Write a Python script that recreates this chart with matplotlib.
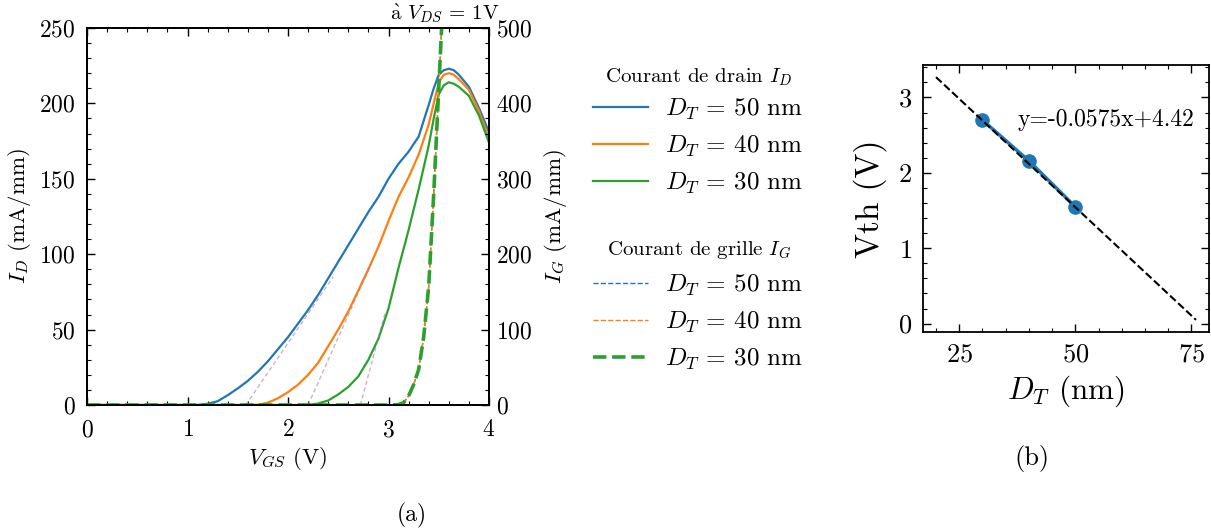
import numpy as np
import matplotlib
matplotlib.use("Agg")
from matplotlib import pyplot as plt

plt.rcParams['font.family'] = ['cmr10', 'DejaVu Serif']
plt.rcParams['mathtext.fontset'] = 'cm'
plt.rcParams['axes.formatter.use_mathtext'] = True
plt.rcParams['axes.unicode_minus'] = False
plt.rcParams['xtick.direction'] = 'in'
plt.rcParams['ytick.direction'] = 'in'
plt.rcParams['axes.linewidth'] = 1.3

# --- (a) courbes de transfert ---
vgs_50 = [0.0, 1.0, 1.1, 1.2, 1.3, 1.4, 1.5, 1.6, 1.7, 1.8, 1.9, 2.0, 2.1, 2.2, 2.3, 2.4, 2.5,
          2.6, 2.7, 2.8, 2.9, 3.0, 3.1, 3.2, 3.3, 3.4, 3.45, 3.5, 3.55, 3.6, 3.65, 3.7, 3.8, 3.9, 4.0]
id_50 = [0, 0, 0, 0.8, 2.5, 6.5, 11, 16, 22, 29, 37, 45, 54, 63, 73, 84, 95,
         106, 117, 128, 138, 150, 160, 168, 178, 199, 210, 219, 222, 223, 222, 219, 211, 197, 181]

vgs_40 = [0.0, 1.6, 1.7, 1.8, 1.9, 2.0, 2.1, 2.2, 2.3, 2.4, 2.5, 2.6, 2.7, 2.8, 2.9, 3.0,
          3.1, 3.2, 3.3, 3.4, 3.45, 3.5, 3.55, 3.6, 3.65, 3.7, 3.8, 3.9, 4.0]
id_40 = [0, 0, 0.2, 1.5, 4.5, 8.5, 13.5, 20, 28, 39, 50, 62, 76, 90, 105, 122,
         138, 151, 166, 186, 200, 214, 219, 220, 219, 216, 209, 195, 177]

vgs_30 = [0.0, 2.2, 2.3, 2.4, 2.5, 2.6, 2.7, 2.8, 2.9, 3.0, 3.1, 3.2, 3.3, 3.4, 3.45, 3.5,
          3.55, 3.6, 3.65, 3.7, 3.8, 3.9, 4.0]
id_30 = [0, 0, 1, 3, 7, 12, 19, 30, 44, 64, 91, 116, 143, 172, 190, 206,
         212, 214, 213, 211, 205, 192, 174]

# courant de grille (les trois courbes se superposent)
vgs_g = [0.0, 3.0, 3.1, 3.15, 3.2, 3.25, 3.3, 3.35, 3.4, 3.45, 3.5, 3.55]
ig_50 = [0, 0, 0.5, 3, 12, 27, 47, 90, 157, 280, 420, 560]
ig_40 = [0, 0, 0.5, 3, 12, 27, 47, 90, 157, 280, 420, 560]
ig_30 = [0, 0, 0.5, 3, 12, 27, 47, 90, 157, 280, 420, 560]

# tangentes pour l'extraction de Vth
tan_x = [[1.58, 2.45], [2.20, 2.85], [2.72, 2.97]]
tan_y = [[0, 85], [0, 97], [0, 62]]

# --- (b) Vth en fonction de D_T ---
dt = [30, 40, 50]
vth = [2.70, 2.16, 1.55]
fit_x = [20, 76]
fit_a, fit_b = -0.0575, 4.42

colors = ['#1f77b4', '#ff7f0e', '#2ca02c']
labels = [r'$D_T$ = 50 nm', r'$D_T$ = 40 nm', r'$D_T$ = 30 nm']

fig = plt.figure(figsize=(12.11, 5.31), dpi=100)
W, H = 1211, 531
ax = fig.add_axes([87 / W, 126 / H, 402 / W, 377 / H])
ax2 = ax.twinx()

id_lines = []
for v, i, c, lab in zip([vgs_50, vgs_40, vgs_30], [id_50, id_40, id_30], colors, labels):
    ln, = ax.plot(v, i, color=c, lw=1.6, label=lab)
    id_lines.append(ln)

for tx, ty in zip(tan_x, tan_y):
    ax.plot(tx, ty, color='#b07aa8', lw=1.0, ls=(0, (3, 2)), alpha=0.6)

ig_lines = []
for ig, c, lab, lw in zip([ig_50, ig_40, ig_30], colors, labels, [1.0, 1.0, 2.6]):
    ln, = ax2.plot(vgs_g, ig, color=c, lw=lw, ls='--', label=lab)
    ig_lines.append(ln)

ax.set_xlim(0, 4)
ax.set_ylim(0, 250)
ax2.set_ylim(0, 500)
ax.set_xticks([0, 1, 2, 3, 4])
ax.set_xticks(np.arange(0, 4.01, 0.2), minor=True)
ax.set_yticks(np.arange(0, 251, 50))
ax.set_yticks(np.arange(0, 251, 10), minor=True)
ax2.set_yticks(np.arange(0, 501, 100))
ax2.set_yticks(np.arange(0, 501, 20), minor=True)
ax.tick_params(which='both', top=True, right=False, labelsize=17)
ax.tick_params(which='major', length=6, width=1.0)
ax.tick_params(which='minor', length=3, width=0.8)
ax.tick_params(axis='x', which='major', pad=10)
ax.tick_params(axis='y', which='major', pad=8)
ax2.tick_params(which='major', length=6, width=1.0, labelsize=17, pad=5)
ax2.tick_params(which='minor', length=3, width=0.8)

ax.set_xlabel(r'$V_{GS}$ (V)', fontsize=16.5, labelpad=3)
ax.set_ylabel(r'$I_D$ (mA/mm)', fontsize=16.5, labelpad=5)
ax2.set_ylabel(r'$I_G$ (mA/mm)', fontsize=16.5, labelpad=7)
ax.text(1.027, 1.008, r'$\mathrm{\grave{a}}$ $V_{DS}$ = 1V', transform=ax.transAxes,
        ha='right', va='bottom', fontsize=15)

# légendes : titres placés à part
leg_kw = dict(loc='upper left', bbox_transform=fig.transFigure, frameon=False,
              fontsize=18, handlelength=2.2, handletextpad=0.7, labelspacing=0.47)
leg1 = ax2.legend(handles=id_lines, bbox_to_anchor=(570 / W, 1 - 74 / H), **leg_kw)
ax2.add_artist(leg1)
ax2.legend(handles=ig_lines, bbox_to_anchor=(570 / W, 1 - 250 / H), **leg_kw)
fig.text(699 / W, 1 - 77 / H, r'Courant de drain $I_D$', ha='center', va='center', fontsize=15)
fig.text(699 / W, 1 - 250 / H, r'Courant de grille $I_G$', ha='center', va='center', fontsize=15)

fig.text(412 / W, 1 - 515 / H, '(a)', ha='center', va='center', fontsize=17)

# --- (b) ---
axb = fig.add_axes([923 / W, (H - 332) / H, 286 / W, 267 / H])
fx = np.array(fit_x)
axb.plot(fx, fit_a * fx + fit_b, color='black', ls='--', lw=1.5, zorder=3)
axb.plot(dt, vth, color='#1f77b4', marker='o', ms=9.5, lw=2.5, zorder=2)
axb.text(56.5, 2.70, 'y=-0.0575x+4.42', ha='center', va='center', fontsize=17)
axb.set_xticks([25, 50, 75])
axb.set_xticks(np.arange(20, 80, 5), minor=True)
axb.set_yticks([0, 1, 2, 3])
axb.set_yticks(np.arange(0, 3.41, 0.2), minor=True)
axb.tick_params(which='both', top=True, right=True, labelsize=19)
axb.tick_params(which='major', length=6, width=1.0, pad=8)
axb.tick_params(which='minor', length=3, width=0.8)
axb.set_xlabel(r'$D_T$ (nm)', fontsize=22.5, labelpad=5)
axb.set_ylabel('Vth (V)', fontsize=24, labelpad=8)

fig.text(1032 / W, 1 - 458 / H, '(b)', ha='center', va='center', fontsize=19)

fig.savefig('out.png', dpi=100)
